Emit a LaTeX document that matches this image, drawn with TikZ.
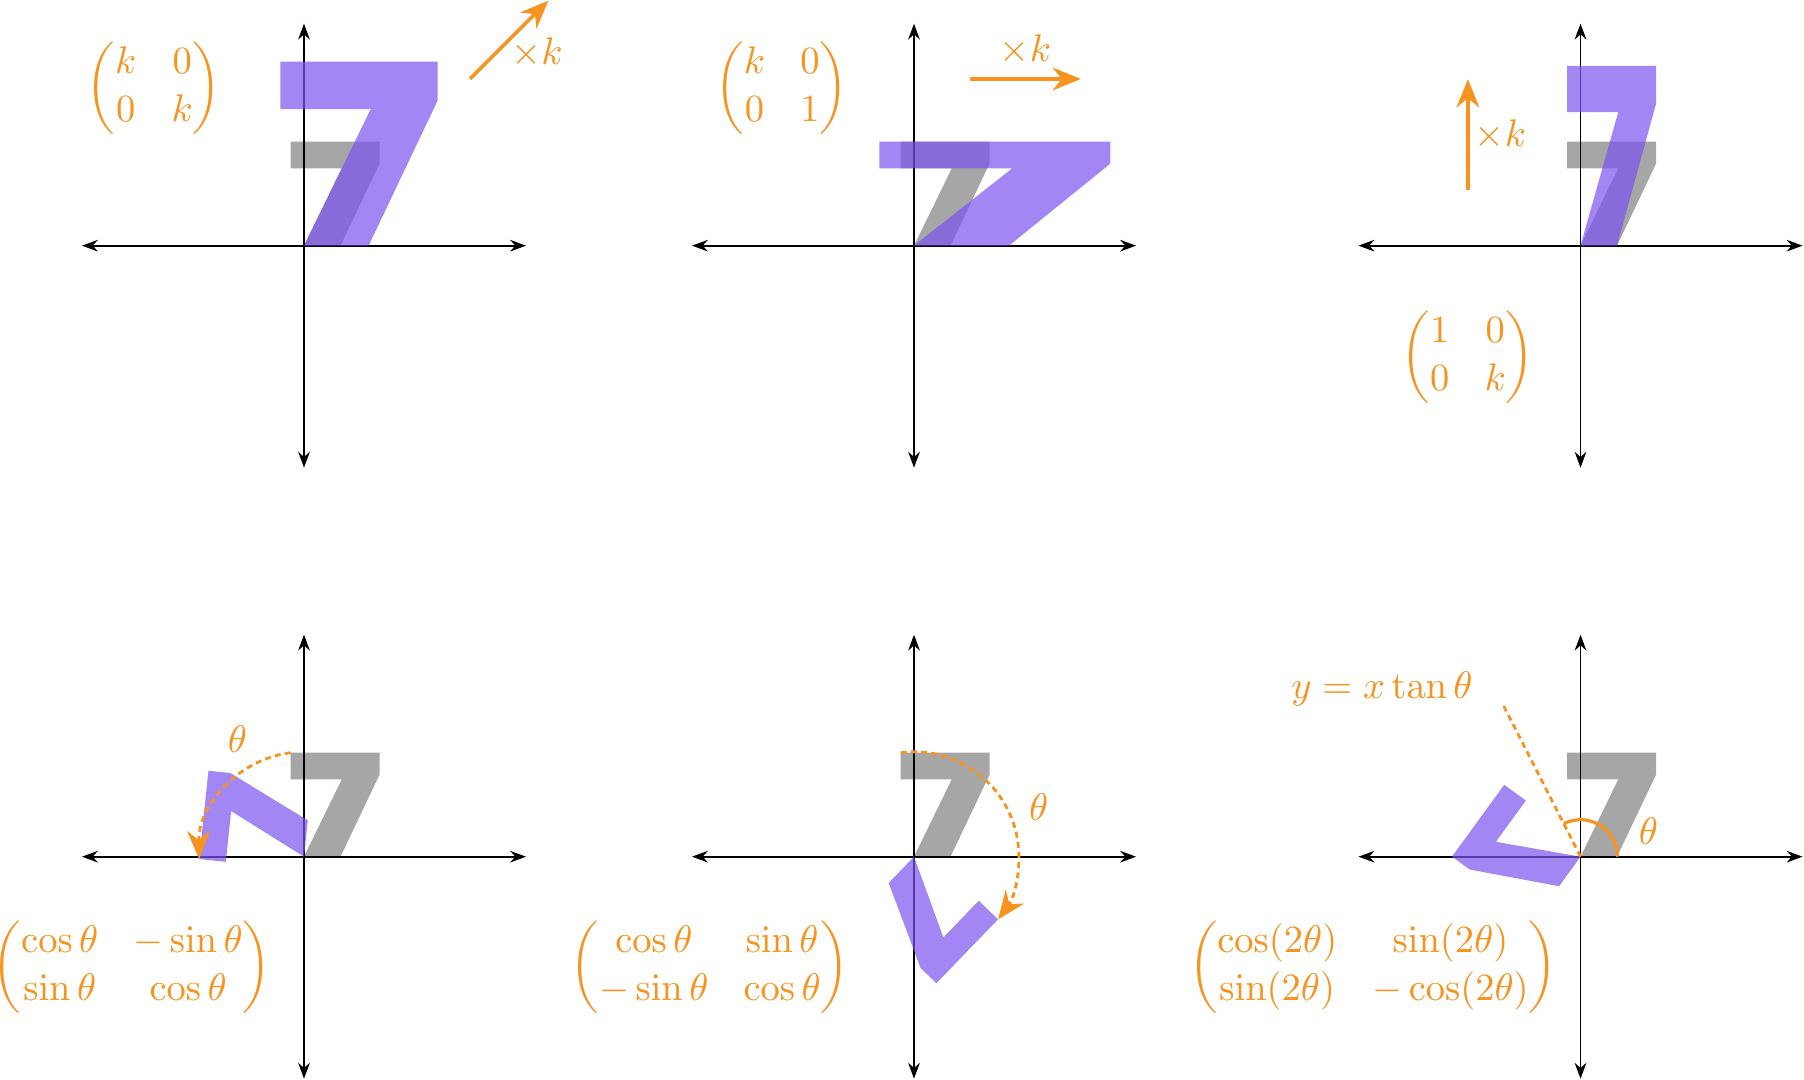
\documentclass[11pt,tikz,border=0pt]{standalone}
\usepackage{amsmath}
\usepackage{tikz}
\usetikzlibrary{
  arrows.meta,
}
\definecolor{myorange}{RGB}{247,147,30}
\definecolor{mypurple}{RGB}{122,84,240}
\def\myaxlen{222}
\newcommand{\myaxes}{%
  \draw[my axis] (-\myaxlen,0) -- (\myaxlen,0);
  \draw[my axis] (0,-\myaxlen) -- (0,\myaxlen);
}
% The seven, in pixels, origin at its foot
\newcommand{\sevenshape}{(0,0) -- (36.5,0) -- (75.5,82) -- (75.5,104)
  -- (-13.3,104) -- (-13.3,77.2) -- (37.7,77.2) -- cycle}
\tikzset{
  my axis/.style={
    {Stealth[length=4.5pt,width=3.3pt]}-{Stealth[length=4.5pt,width=3.3pt]},
    line width=0.55pt
  },
  my original/.style={
    fill=black,
    fill opacity=0.35
  },
  my image/.style={
    fill=mypurple,
    fill opacity=0.7
  },
  my note/.style={
    draw=myorange,
    line width=0.9pt
  },
  my arrow/.style={
    my note,
    line width=1pt,
    -{Stealth[length=8pt,width=6.5pt]}
  },
  my dashes/.style={
    line width=0.8pt,
    dash pattern=on 1.7pt off 1.2pt
  },
  my turn/.style={
    my arrow,
    my dashes
  },
  my text/.style={
    text=myorange,
    inner sep=0pt
  }
}
\begin{document}
\begin{tikzpicture}[x=0.01cm,y=0.01cm]
\useasboundingbox (0,0) rectangle (1804,1080);
% scaling
\begin{scope}[shift={(304,834.3)}]
  \myaxes
  \fill[my original] \sevenshape;
  \fill[my image,scale=1.77] \sevenshape;
  \node[my text] (m1) at (-150,157.4) {$\begin{pmatrix} k & 0\\ 0 & k \end{pmatrix}$};
  \coordinate (a1) at (166,166.7);
  \coordinate (b1) at (244.3,245);
  \draw[my arrow] (a1) -- (b1);
  \node[my text] (k1) at (233,193.2) {$\times k$};
\end{scope}
% horizontal stretch
\begin{scope}[shift={(914,834.3)}]
  \myaxes
  \fill[my original] \sevenshape;
  \fill[my image,xscale=2.6] \sevenshape;
  \node[my text] (m2) at (-132.2,157.4) {$\begin{pmatrix} k & 0\\ 0 & 1 \end{pmatrix}$};
  \coordinate (a2) at (55.7,166.7);
  \coordinate (b2) at (166.7,166.7);
  \draw[my arrow] (a2) -- (b2);
  \node[my text] (k2) at (111.4,195.7) {$\times k$};
\end{scope}
% vertical stretch
\begin{scope}[shift={(1580.5,834.3)}]
  \myaxes
  \fill[my original] \sevenshape;
  \fill[my image,yscale=1.73] \sevenshape;
  \node[my text] (m3) at (-112.6,-111.5) {$\begin{pmatrix} 1 & 0\\ 0 & k \end{pmatrix}$};
  \coordinate (a3) at (-112.6,55.7);
  \coordinate (b3) at (-112.6,166.4);
  \draw[my arrow] (a3) -- (b3);
  \node[my text] (k3) at (-80.1,110.5) {$\times k$};
\end{scope}
% rotation
\begin{scope}[shift={(304,223.3)}]
  \myaxes
  \fill[my original] \sevenshape;
  \fill[my image,rotate=84] \sevenshape;
  \node[my text] (m4) at (-172,-110) {$\begin{pmatrix} \cos\theta & -\sin\theta\\ \sin\theta & \cos\theta \end{pmatrix}$};
  \coordinate (e4) at (-13.3,104);
  \draw[my turn] (e4) arc[start angle=97.3,end angle=181.3,radius=104.85];
  \node[my text] (t4) at (-66.6,117.5) {$\theta$};
\end{scope}
% rotation the other way
\begin{scope}[shift={(914,223.3)}]
  \myaxes
  \fill[my original] \sevenshape;
  \fill[my image,rotate=-134] \sevenshape;
  \node[my text] (m5) at (-204,-110) {$\begin{pmatrix} \cos\theta & \sin\theta\\ -\sin\theta & \cos\theta \end{pmatrix}$};
  \coordinate (e5) at (-13.3,104);
  \draw[my turn] (e5) arc[start angle=97.3,end angle=-36.7,radius=104.85];
  \node[my text] (t5) at (124.6,50) {$\theta$};
\end{scope}
% reflection
\begin{scope}[shift={(1580.5,223.3)}]
  \myaxes
  \fill[my original] \sevenshape;
  \fill[my image,cm={-0.5878,-0.8090,-0.8090,0.5878,(0,0)}] \sevenshape;
  \node[my text] (m6) at (-207.5,-110) {$\begin{pmatrix} \cos(2\theta) & \sin(2\theta)\\ \sin(2\theta) & -\cos(2\theta) \end{pmatrix}$};
  \coordinate (o6) at (0,0);
  \coordinate (l6) at (117:170.7);
  \draw[my note,my dashes] (o6) -- (l6);
  \coordinate (r6) at (37,0);
  \draw[my note] (r6) arc[start angle=0,end angle=117,radius=37];
  \node[my text] (t6) at (67.8,25.9) {$\theta$};
  \node[my text] (y6) at (-198.5,168) {$y = x\tan\theta$};
\end{scope}
\end{tikzpicture}
\end{document}
